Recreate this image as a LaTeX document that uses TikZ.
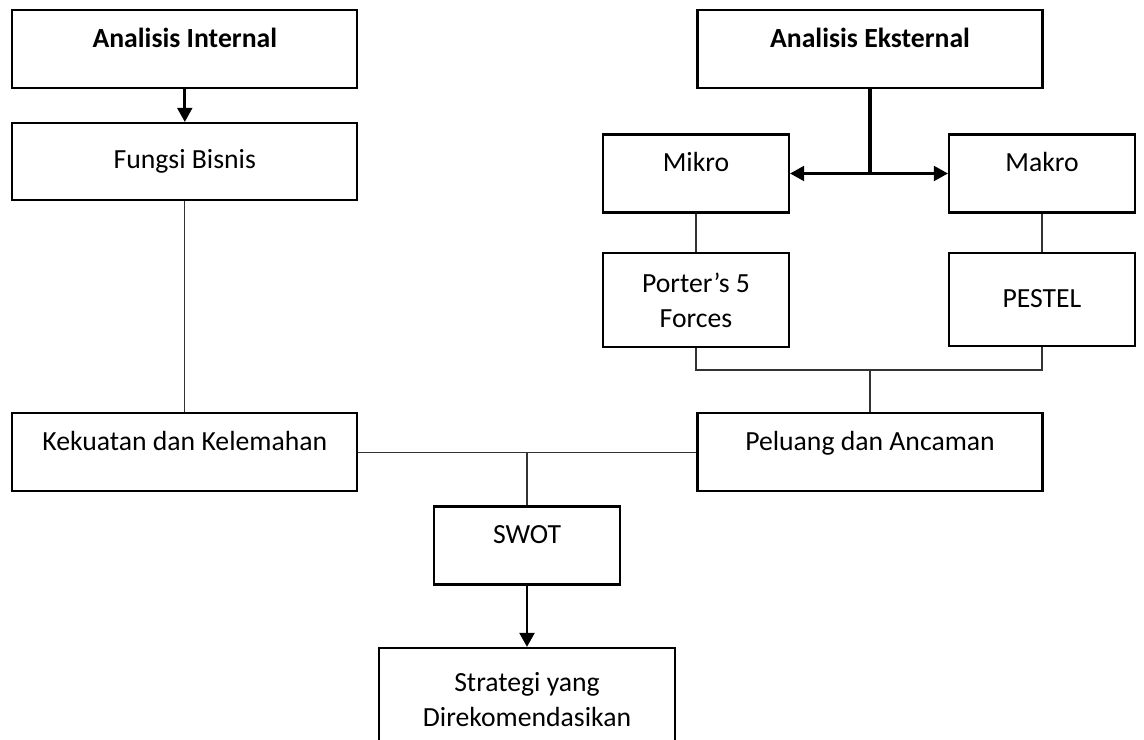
\documentclass[tikz,border=0pt]{standalone}
\usepackage{fontspec}
\setmainfont{Carlito}
\usetikzlibrary{arrows.meta}

\begin{document}
\begin{tikzpicture}
			[auto=left,every node/.style={draw,line width=1.5pt,inner sep=0pt,align=center,font=\fontsize{19.7}{25}\selectfont},
			wide/.style={minimum width=8.625cm}, small/.style={minimum width=4.65cm},
			top/.style={text height=0.93cm,text depth=1.02cm},
			edge/.style={->,line width=1.9pt,>={Triangle[length=10pt,width=10.5pt]}},
			link/.style={line width=0.85pt,black!80}]
			\useasboundingbox (0,0) rectangle (28.6,18.5);
			\clip (0,0) rectangle (28.6,18.5);
			\node[wide,top] (ai) at (4.62,17.275)  {\textbf{Analisis Internal}};
			\node[wide,text height=1.13cm,text depth=0.8cm] (fb) at (4.62,14.46)  {Fungsi Bisnis};
			\node[wide,top] (kk) at (4.62,7.19)  {Kekuatan dan Kelemahan};
			\node[wide,top] (ae) at (21.75,17.275)  {\textbf{Analisis Eksternal}};
			\node[small,top] (mi) at (17.4,14.1625)  {Mikro};
			\node[small,top] (ma) at (26.05,14.1625)  {Makro};
			\node[small,minimum height=2.35cm] (po) at (17.4,11.0)  {Porter’s 5\\Forces};
			\node[small,text height=1.35cm,text depth=0.975cm] (pe) at (26.05,11.01)  {PESTEL};
			\node[wide,top] (pa) at (21.75,7.19)  {Peluang dan Ancaman};
			\node[small,top] (sw) at (13.175,4.8625)  {SWOT};
			\node[minimum width=7.4cm,minimum height=2.6cm] (st) at (13.175,1.0)  {Strategi yang\\Direkomendasikan};
			\coordinate (split) at (21.75,14.1625);
			\coordinate (join) at (21.75,9.25);
			
			\draw[edge] (ai) to (fb);
			\draw[link] (fb) to (kk);
			\draw[line width=2.8pt] (ae) to (split);
			\draw[edge] (split) to (mi);
			\draw[edge] (split) to (ma);
			\draw[link] (mi) to (po);
			\draw[link] (ma) to (pe);
			\draw[link] (po.south) |- (join) -| (pe.south);
			\draw[link] (join) to (pa);
			\draw[link] (kk) to (pa);
			\draw[link] (sw |- kk) to (sw);
			\draw[edge,line width=2.1pt] (sw) to (st);
			\end{tikzpicture}
\end{document}
